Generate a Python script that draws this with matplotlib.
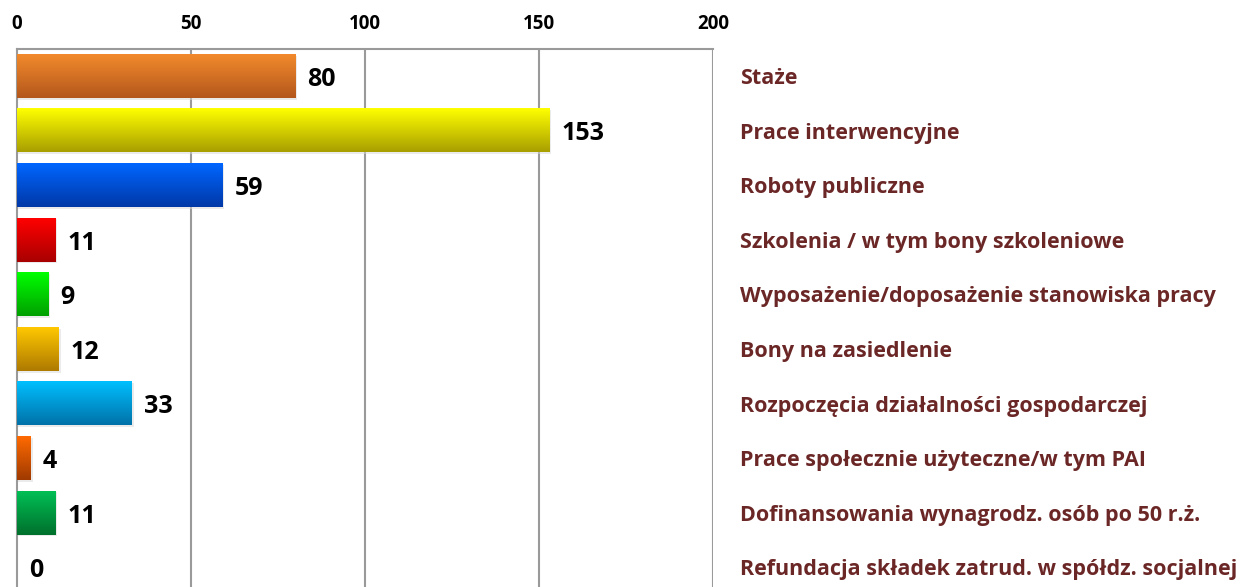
import numpy as np
import matplotlib
matplotlib.use("Agg")
import matplotlib.pyplot as plt
from matplotlib.colors import to_rgb
from matplotlib.transforms import blended_transform_factory

# data
categories = ["Staże", "Prace interwencyjne", "Roboty publiczne",
              "Szkolenia / w tym bony szkoleniowe",
              "Wyposażenie/doposażenie stanowiska pracy",
              "Bony na zasiedlenie", "Rozpoczęcia działalności gospodarczej",
              "Prace społecznie użyteczne/w tym PAI",
              "Dofinansowania wynagrodz. osób po 50 r.ż.",
              "Refundacja składek zatrud. w spółdz. socjalnej"]
values = [80, 153, 59, 11, 9, 12, 33, 4, 11, 0]
top_colors = ["#F28A2C", "#FFFF00", "#0066FF", "#FF0000", "#00FF00",
              "#FFC800", "#00BFFF", "#FF6A00", "#00BF55", "#FFFFFF"]
bottom_colors = ["#B4571C", "#A89F00", "#0038A8", "#A80000", "#00A000",
                 "#AE7A00", "#0072A8", "#A03A00", "#00702C", "#FFFFFF"]
xticks = [0, 50, 100, 150, 200]

plt.rcParams['font.family'] = ['Open Sans', 'DejaVu Sans']

fig = plt.figure(figsize=(12.45, 5.87), dpi=100)
ax = fig.add_axes([17/1245, -8/587, 696/1245, 546/587])

bar_h = 0.79
grid_col = "#9A9A9A"
for x in xticks[1:]:
    ax.axvline(x, color=grid_col, lw=1.5, zorder=1)

for i, (v, c1, c2) in enumerate(zip(values, top_colors, bottom_colors)):
    if v <= 0:
        continue
    a = np.array(to_rgb(c1))
    b = np.array(to_rgb(c2))
    t = np.linspace(0, 1, 60)[:, None, None]
    grad = a * (1 - t) + b * t
    # soft shadow under the bar
    ax.imshow(np.ones((2, 2, 3)) * 0.85, extent=(0.4, v + 0.5, i + bar_h/2 + 0.03, i - bar_h/2 + 0.03),
              aspect='auto', zorder=2, alpha=0.5, interpolation='bilinear')
    ax.imshow(grad, extent=(0, v, i + bar_h/2, i - bar_h/2),
              aspect='auto', zorder=3, interpolation='bilinear')

for i, v in enumerate(values):
    ax.annotate(str(v), (v, i), xytext=(12, -3), textcoords='offset pixels',
                ha='left', va='center', fontsize=18, fontweight='bold',
                color='black', zorder=5)

trans = blended_transform_factory(ax.transAxes, ax.transData)
for i, lab in enumerate(categories):
    ax.text(1.039, i + 0.04, lab, transform=trans, ha='left', va='center',
            fontsize=15.5, fontweight='bold', color='#6B2626', clip_on=False)

ax.set_xlim(0, 200)
ax.set_ylim(9.5, -0.5)
ax.set_xticks(xticks)
ax.set_yticks([])
ax.xaxis.tick_top()
ax.tick_params(axis='x', length=0, pad=11, labelsize=13.5)
for lab in ax.get_xticklabels():
    lab.set_fontweight('bold')
for s in ['bottom', 'right']:
    ax.spines[s].set_visible(False)
for s in ['top', 'left']:
    ax.spines[s].set_color(grid_col)
    ax.spines[s].set_linewidth(1.5)

fig.savefig("out.png", dpi=100)
